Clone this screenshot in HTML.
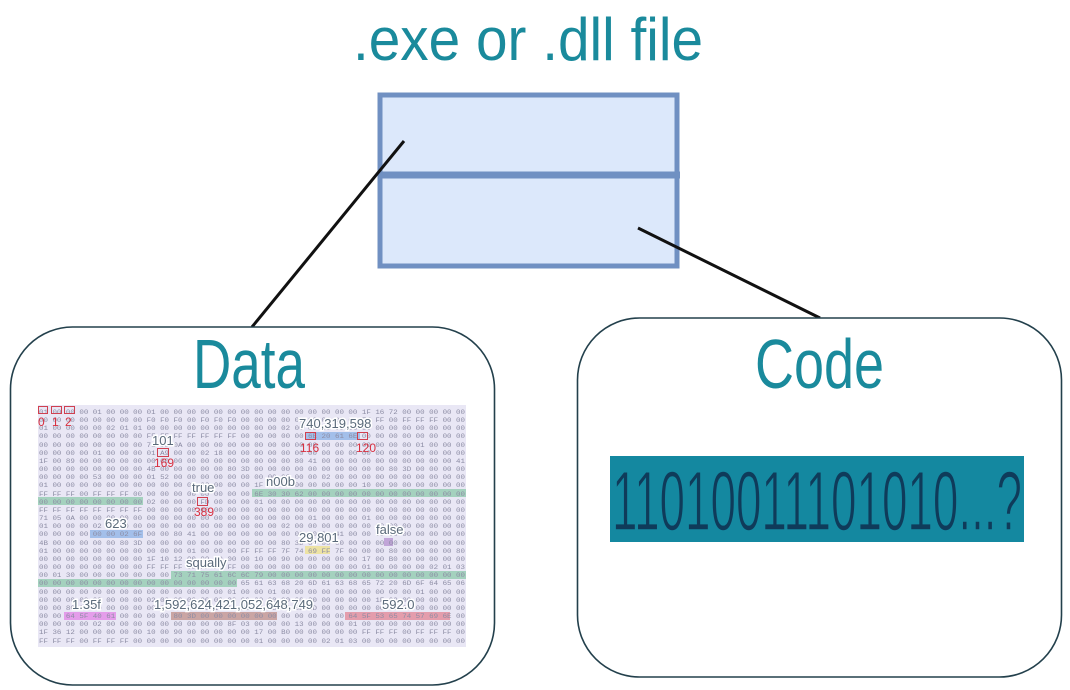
<!DOCTYPE html>
<html><head><meta charset="utf-8"><style>
html,body{margin:0;padding:0;background:#fff;}
svg{display:block;}
</style></head><body>
<svg width="1070" height="690" viewBox="0 0 1070 690" xmlns="http://www.w3.org/2000/svg" font-family="Liberation Sans, sans-serif">
<rect width="1070" height="690" fill="#fff"/>
<text x="353" y="60" font-size="60" fill="#1a8a9c" textLength="350" lengthAdjust="spacingAndGlyphs">.exe or .dll file</text>
<rect x="380" y="95" width="297" height="171" fill="#dce8fb" stroke="#7090c2" stroke-width="5"/>
<line x1="380" y1="175" x2="680" y2="175" stroke="#7090c2" stroke-width="7"/>
<line x1="404" y1="141" x2="252" y2="327" stroke="#111" stroke-width="3"/>
<line x1="638" y1="228" x2="820" y2="318" stroke="#111" stroke-width="3"/>
<rect x="10.5" y="327" width="484" height="358" rx="62" fill="#fff" stroke="#23404c" stroke-width="1.6"/>
<rect x="577.5" y="318" width="484" height="359" rx="62" fill="#fff" stroke="#23404c" stroke-width="1.6"/>
<text x="193" y="388" font-size="70" fill="#1a8a9c" textLength="112" lengthAdjust="spacingAndGlyphs">Data</text>
<text x="755" y="388" font-size="70" fill="#1a8a9c" textLength="129" lengthAdjust="spacingAndGlyphs">Code</text>
<rect x="610" y="456" width="414" height="86" fill="#1488a0"/>
<text x="612" y="530" font-size="84" fill="#0f3b5a" stroke="#1488a0" stroke-width="1.5" textLength="410" lengthAdjust="spacingAndGlyphs">11010011101010...?</text>
<!-- hex panel -->
<rect x="38" y="405" width="428" height="242" fill="#e9e7f5"/>
<g fill-opacity="0.55">
<rect x="252" y="489" width="214" height="8" fill="#6cc090"/>
<rect x="38" y="497" width="105" height="8" fill="#6cc090"/>
<rect x="171" y="571" width="295" height="8" fill="#6cc090"/>
<rect x="38" y="579" width="199" height="8" fill="#6cc090"/>
<rect x="90" y="530" width="53" height="8" fill="#6a9ee0"/>
<rect x="305" y="432" width="55" height="8" fill="#6a9ee0"/>
<rect x="305" y="546" width="25" height="8" fill="#f0e060"/>
<rect x="384" y="538" width="9" height="8" fill="#a070c0"/>
<rect x="64" y="612" width="52" height="8" fill="#e060e0"/>
<rect x="171" y="612" width="106" height="8" fill="#b07060"/>
<rect x="345" y="612" width="105" height="8" fill="#e06070"/>
</g>
<g font-family="Liberation Mono, monospace" font-size="6.5" fill="#8c8ca4">
<text x="39" y="414" textLength="426" lengthAdjust="spacingAndGlyphs">01 00 00 00 01 00 00 00 01 00 00 00 00 00 00 00 00 00 00 00 00 00 00 00 1F 16 72 00 00 00 00 00</text>
<text x="39" y="422" textLength="426" lengthAdjust="spacingAndGlyphs">00 00 00 00 00 00 00 00 F0 F0 F0 00 F0 F0 F0 00 00 00 00 00 00 00 00 00 FF FF 00 FF FF FF 00 00</text>
<text x="39" y="430" textLength="426" lengthAdjust="spacingAndGlyphs">01 00 00 00 00 02 01 01 00 00 00 00 00 00 00 00 00 00 02 00 00 00 00 00 00 00 00 00 00 00 00 00</text>
<text x="39" y="438" textLength="426" lengthAdjust="spacingAndGlyphs">00 00 00 00 00 00 00 00 FF FF FF FF FF FF FF 00 00 00 00 00 6E 20 61 6E 00 00 00 00 00 00 00 00</text>
<text x="39" y="447" textLength="426" lengthAdjust="spacingAndGlyphs">00 00 00 00 00 00 00 00 71 00 0A 00 00 00 00 00 00 00 00 00 00 00 00 00 00 00 00 00 01 00 00 00</text>
<text x="39" y="455" textLength="426" lengthAdjust="spacingAndGlyphs">00 00 00 00 01 00 00 00 01 A9 00 00 02 18 00 00 00 00 00 00 00 00 00 00 00 00 00 00 00 00 00 00</text>
<text x="39" y="463" textLength="426" lengthAdjust="spacingAndGlyphs">1F 00 89 00 00 00 00 00 00 00 00 00 00 00 00 00 00 00 00 80 41 00 00 00 00 00 00 00 00 00 00 41</text>
<text x="39" y="471" textLength="426" lengthAdjust="spacingAndGlyphs">00 00 00 00 00 00 00 00 4B 00 00 00 00 00 80 3D 00 00 00 00 00 00 00 00 00 00 80 3D 00 00 00 00</text>
<text x="39" y="479" textLength="426" lengthAdjust="spacingAndGlyphs">00 00 00 00 53 00 00 00 01 52 00 00 00 00 00 00 00 00 00 00 00 02 00 00 00 00 00 00 00 00 00 00</text>
<text x="39" y="487" textLength="426" lengthAdjust="spacingAndGlyphs">01 00 00 00 00 00 00 00 00 00 00 00 00 00 00 00 1F 00 12 00 00 00 00 00 10 00 90 00 00 00 00 00</text>
<text x="39" y="496" textLength="426" lengthAdjust="spacingAndGlyphs">FF FF FF 00 FF FF FF 00 00 00 00 00 00 00 00 00 6E 30 30 62 00 00 00 00 00 00 00 00 00 00 00 00</text>
<text x="39" y="504" textLength="426" lengthAdjust="spacingAndGlyphs">00 00 00 00 00 00 00 00 02 00 00 00 FD 00 00 00 01 00 00 00 00 00 00 00 00 00 00 00 00 00 00 00</text>
<text x="39" y="512" textLength="426" lengthAdjust="spacingAndGlyphs">FF FF FF FF FF FF FF FF 00 00 00 00 00 00 00 00 00 00 00 00 00 00 00 00 00 00 00 00 00 00 00 00</text>
<text x="39" y="520" textLength="426" lengthAdjust="spacingAndGlyphs">71 05 0A 00 00 00 00 00 00 00 00 00 00 00 00 00 00 00 00 00 01 00 00 00 01 00 00 00 00 00 00 00</text>
<text x="39" y="528" textLength="426" lengthAdjust="spacingAndGlyphs">01 00 00 00 02 00 00 00 00 00 00 00 00 00 00 00 00 00 02 00 00 00 00 00 00 00 00 00 00 00 00 00</text>
<text x="39" y="536" textLength="426" lengthAdjust="spacingAndGlyphs">00 00 00 00 00 00 02 6F 00 00 80 41 00 00 00 00 00 00 00 00 00 00 41 00 00 00 00 00 00 00 00 00</text>
<text x="39" y="545" textLength="426" lengthAdjust="spacingAndGlyphs">4B 00 00 00 00 00 80 3D 00 00 00 00 00 00 00 00 00 00 80 3D 00 00 00 00 00 00 00 00 00 00 00 00</text>
<text x="39" y="553" textLength="426" lengthAdjust="spacingAndGlyphs">01 00 00 00 00 00 00 00 00 00 00 01 00 00 00 FF FF FF 7F 74 69 FF 7F 00 00 00 80 00 00 00 00 80</text>
<text x="39" y="561" textLength="426" lengthAdjust="spacingAndGlyphs">00 00 00 00 00 00 00 00 1F 10 12 00 00 00 00 00 10 00 90 00 00 00 00 00 17 00 B0 00 00 00 00 00</text>
<text x="39" y="569" textLength="426" lengthAdjust="spacingAndGlyphs">00 00 00 00 00 00 00 00 FF FF FF 00 FF FF FF 00 00 00 00 00 00 00 00 00 01 00 00 00 00 02 01 03</text>
<text x="39" y="577" textLength="426" lengthAdjust="spacingAndGlyphs">00 01 30 00 00 00 00 00 00 00 73 71 75 61 6C 6C 79 00 00 00 00 00 00 00 00 00 00 00 00 00 00 00</text>
<text x="39" y="585" textLength="426" lengthAdjust="spacingAndGlyphs">00 00 00 00 00 00 00 00 00 00 00 00 00 00 00 65 61 63 68 20 6D 61 63 68 65 72 20 6D 6F 64 65 06</text>
<text x="39" y="594" textLength="426" lengthAdjust="spacingAndGlyphs">00 00 00 00 00 00 00 00 00 00 00 00 00 00 01 00 00 01 00 00 00 00 00 00 00 00 00 00 01 00 00 00</text>
<text x="39" y="602" textLength="426" lengthAdjust="spacingAndGlyphs">00 00 00 00 00 00 00 00 02 00 00 00 00 00 00 00 00 00 00 00 00 00 00 00 00 1F 00 00 00 00 00 00</text>
<text x="39" y="610" textLength="426" lengthAdjust="spacingAndGlyphs">00 00 80 00 00 00 00 00 00 00 00 00 00 10 1A 23 79 0D 74 8D 2D 00 00 00 00 00 00 00 00 00 00 00</text>
<text x="39" y="618" textLength="426" lengthAdjust="spacingAndGlyphs">00 00 64 5F 40 61 00 00 00 00 80 3D 00 00 00 00 00 00 00 00 00 00 00 64 5F 53 65 74 57 69 6E 00</text>
<text x="39" y="626" textLength="426" lengthAdjust="spacingAndGlyphs">00 00 00 00 02 00 00 00 00 00 00 00 00 00 8F 03 00 00 00 13 00 00 00 01 00 00 00 00 00 00 00 00</text>
<text x="39" y="634" textLength="426" lengthAdjust="spacingAndGlyphs">1F 36 12 00 00 00 00 00 10 00 90 00 00 00 00 00 17 00 B0 00 00 00 00 00 FF FF FF 00 FF FF FF 00</text>
<text x="39" y="643" textLength="426" lengthAdjust="spacingAndGlyphs">FF FF FF 00 FF FF FF 00 00 00 00 00 00 00 00 00 01 00 00 00 00 02 01 03 00 00 00 00 00 00 00 00</text>
</g>
<g fill="none" stroke="#d04050" stroke-width="1">
<rect x="38.5" y="406.5" width="9" height="7"/><rect x="51.5" y="406.5" width="10" height="7"/><rect x="64.5" y="406.5" width="10" height="7"/>
<rect x="305.5" y="432.5" width="10" height="7"/><rect x="357.5" y="432.5" width="10" height="7"/>
<rect x="157.5" y="448.5" width="11" height="8"/><rect x="197.5" y="497.5" width="10" height="8"/>
</g>
<g font-size="12" fill="#d83040">
<text x="38" y="426">0</text><text x="52" y="426">1</text><text x="65" y="426">2</text>
<text x="300" y="452">116</text><text x="356" y="452">120</text>
<text x="154" y="467">169</text><text x="194" y="516">389</text>
</g>
<g font-size="13" fill="#5a6a7a" stroke="#fff" stroke-width="3" paint-order="stroke">
<text x="299" y="428">740,319,598</text>
<text x="152" y="445">101</text>
<text x="266" y="486">n00b</text>
<text x="192" y="492">true</text>
<text x="105" y="528">623</text>
<text x="376" y="534">false</text>
<text x="299" y="542">29,801</text>
<text x="186" y="567">squally</text>
<text x="72" y="609">1.35f</text>
<text x="154" y="609">1,592,624,421,052,648,749</text>
<text x="382" y="609">592.0</text>
</g>
</svg>
</body></html>
